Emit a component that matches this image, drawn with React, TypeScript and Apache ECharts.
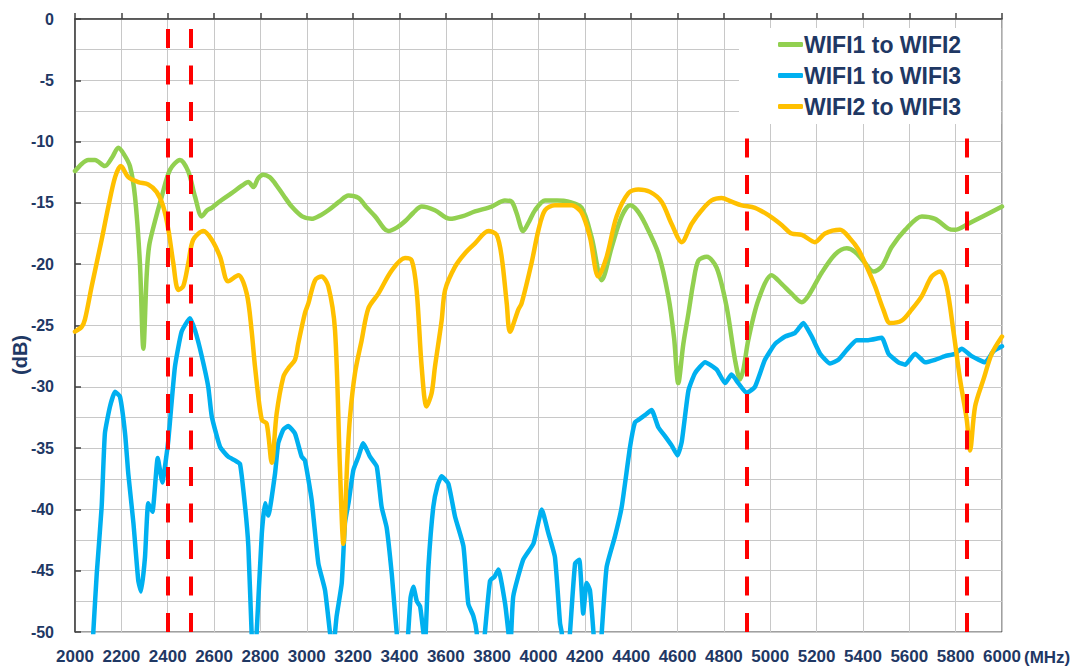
import React, { useEffect, useRef } from "react";
import * as echarts from "echarts";

// ---- Data (MHz, dB) ----
const wifi12Freq = [2000, 2030, 2057, 2086, 2129, 2160, 2187, 2210, 2237, 2259, 2280, 2295, 2309, 2320, 2345, 2374, 2410, 2453, 2489, 2518, 2547, 2570, 2590, 2630, 2676, 2720, 2748, 2770, 2790, 2812, 2840, 2863, 2900, 2935, 2980, 3021, 3060, 3093, 3140, 3180, 3223, 3260, 3295, 3352, 3390, 3424, 3460, 3496, 3553, 3618, 3670, 3726, 3798, 3855, 3884, 3905, 3934, 3960, 3985, 4028, 4080, 4129, 4186, 4229, 4273, 4316, 4359, 4395, 4425, 4460, 4517, 4560, 4585, 4603, 4625, 4647, 4668, 4690, 4726, 4769, 4812, 4848, 4870, 4885, 4905, 4949, 5006, 5049, 5092, 5136, 5164, 5222, 5280, 5330, 5366, 5409, 5445, 5481, 5524, 5582, 5654, 5711, 5768, 5797, 5855, 5927, 6000];
const wifi12Db = [-12.4, -11.8, -11.5, -11.5, -12.0, -11.3, -10.5, -11.0, -12.0, -14.5, -19.9, -26.9, -21.0, -18.5, -16.5, -14.5, -12.3, -11.5, -12.45, -14.5, -16.1, -15.6, -15.4, -14.8, -14.2, -13.6, -13.3, -13.7, -13.0, -12.7, -12.9, -13.4, -14.4, -15.3, -16.1, -16.3, -16.0, -15.6, -14.9, -14.4, -14.6, -15.4, -16.1, -17.3, -17.0, -16.5, -15.8, -15.3, -15.6, -16.3, -16.1, -15.7, -15.3, -14.8, -14.9, -15.8, -17.3, -16.5, -15.6, -14.8, -14.8, -14.9, -15.4, -17.8, -21.3, -18.6, -16.1, -15.2, -15.6, -16.7, -19.1, -22.6, -26.0, -29.7, -26.5, -24.0, -21.5, -19.7, -19.4, -20.3, -23.5, -27.8, -29.4, -28.5, -26.2, -22.9, -20.9, -21.6, -22.4, -23.1, -22.6, -20.7, -19.2, -18.7, -19.0, -19.9, -20.6, -20.2, -18.6, -17.2, -16.1, -16.3, -17.1, -17.2, -16.7, -16.0, -15.3];

const wifi13Freq = [2000, 2065, 2079, 2094, 2115, 2129, 2151, 2173, 2194, 2216, 2230, 2252, 2273, 2285, 2302, 2316, 2334, 2357, 2377, 2396, 2403, 2431, 2460, 2496, 2518, 2547, 2575, 2590, 2626, 2661, 2690, 2712, 2734, 2748, 2762, 2773, 2784, 2806, 2820, 2834, 2863, 2877, 2899, 2920, 2949, 2978, 2992, 3021, 3050, 3079, 3100, 3113, 3129, 3151, 3165, 3180, 3201, 3223, 3244, 3273, 3302, 3323, 3345, 3367, 3381, 3388, 3412, 3438, 3448, 3460, 3475, 3489, 3503, 3510, 3525, 3546, 3565, 3582, 3611, 3640, 3676, 3697, 3719, 3733, 3750, 3769, 3791, 3810, 3827, 3856, 3870, 3878, 3891, 3934, 3978, 4000, 4014, 4042, 4071, 4093, 4100, 4118, 4136, 4158, 4176, 4193, 4208, 4222, 4237, 4255, 4273, 4294, 4330, 4359, 4395, 4416, 4431, 4467, 4488, 4517, 4545, 4575, 4600, 4618, 4647, 4675, 4719, 4769, 4805, 4833, 4862, 4898, 4934, 4977, 5021, 5064, 5107, 5143, 5179, 5215, 5258, 5294, 5330, 5373, 5423, 5481, 5510, 5553, 5582, 5625, 5668, 5711, 5754, 5797, 5826, 5869, 5927, 5963, 6000];
const wifi13Db = [-60, -55, -50, -45.2, -39.8, -33.8, -31.6, -30.4, -30.8, -33.8, -37.1, -41.1, -45.8, -46.7, -43.9, -39.5, -40.2, -35.8, -37.8, -35.4, -34.3, -28.4, -25.5, -24.4, -25.4, -27.5, -30.0, -32.4, -34.9, -35.7, -36.0, -36.3, -39.8, -43.0, -50, -53, -50, -42.0, -39.5, -40.5, -37.1, -34.6, -33.5, -33.2, -33.8, -35.7, -36.0, -39.2, -44.4, -46.6, -50, -51.5, -48.7, -46.0, -41.1, -39.5, -36.8, -35.7, -34.6, -35.7, -36.5, -39.8, -41.5, -45.3, -48.5, -50, -56, -50, -47.2, -46.3, -47.5, -47.9, -50, -51, -44.7, -39.8, -38.0, -37.3, -37.9, -40.6, -43.0, -47.7, -48.7, -50, -54, -50, -45.8, -45.5, -44.9, -47.7, -50, -51.5, -47.1, -44.1, -42.8, -41.0, -40.0, -41.9, -43.9, -49.3, -50, -54, -50, -44.4, -44.1, -48.5, -46.0, -46.6, -50, -55, -50, -44.7, -42.2, -39.8, -34.9, -32.9, -32.7, -32.2, -31.9, -33.3, -34.0, -34.8, -35.6, -34.5, -30.3, -28.9, -28.0, -28.6, -29.7, -29.0, -29.7, -30.5, -30.0, -27.8, -26.5, -25.9, -25.6, -24.8, -25.9, -27.3, -28.1, -27.8, -27.0, -26.2, -26.2, -26.0, -27.3, -28.0, -28.2, -27.3, -28.0, -27.8, -27.5, -27.3, -26.9, -27.5, -28.0, -27.1, -26.7];

const wifi23Freq = [2000, 2029, 2043, 2072, 2115, 2144, 2173, 2198, 2230, 2273, 2316, 2352, 2381, 2403, 2424, 2446, 2467, 2489, 2510, 2554, 2590, 2626, 2661, 2705, 2741, 2762, 2777, 2806, 2827, 2849, 2870, 2899, 2920, 2949, 2963, 2992, 3007, 3036, 3064, 3093, 3122, 3143, 3158, 3175, 3187, 3208, 3237, 3266, 3309, 3367, 3424, 3453, 3474, 3496, 3517, 3539, 3553, 3582, 3597, 3640, 3683, 3726, 3784, 3819, 3841, 3863, 3877, 3913, 3927, 3970, 4000, 4028, 4071, 4143, 4186, 4222, 4258, 4294, 4337, 4388, 4431, 4481, 4531, 4574, 4618, 4661, 4704, 4747, 4790, 4833, 4877, 4934, 4992, 5049, 5092, 5136, 5193, 5236, 5301, 5344, 5380, 5416, 5452, 5488, 5517, 5567, 5610, 5654, 5697, 5733, 5761, 5790, 5819, 5848, 5862, 5884, 5920, 5956, 6000];
const wifi23Db = [-25.5, -25.1, -24.5, -21.8, -18.0, -15.3, -12.9, -12.0, -12.9, -13.3, -13.5, -14.1, -15.3, -17.2, -19.9, -22.1, -21.8, -19.9, -18.0, -17.3, -18.0, -19.4, -21.4, -20.9, -22.4, -25.4, -28.4, -32.7, -33.0, -36.2, -32.2, -29.2, -28.5, -27.8, -26.5, -24.0, -23.2, -21.3, -21.0, -21.8, -25.4, -36.5, -42.8, -36.0, -32.4, -28.9, -26.2, -23.6, -22.4, -20.5, -19.5, -19.7, -22.1, -28.4, -31.6, -30.5, -28.4, -24.6, -22.1, -20.2, -19.1, -18.3, -17.3, -17.6, -19.4, -23.2, -25.5, -23.7, -23.2, -19.9, -17.2, -15.6, -15.2, -15.2, -15.8, -17.8, -21.0, -19.4, -16.1, -14.2, -13.9, -14.1, -14.9, -16.7, -18.2, -16.7, -15.6, -14.8, -14.6, -14.9, -15.2, -15.4, -16.0, -16.8, -17.5, -17.6, -18.2, -17.5, -17.2, -17.9, -18.8, -20.2, -21.8, -23.7, -24.8, -24.6, -23.7, -22.6, -21.0, -20.6, -21.8, -25.4, -29.4, -32.7, -35.2, -31.6, -29.4, -27.3, -25.9];

const markerFreqs = [2400, 2500, 4900, 5850];
const seriesNames = ["WIFI1 to WIFI2", "WIFI1 to WIFI3", "WIFI2 to WIFI3"];
const seriesColors = ["#92d050", "#00b0f0", "#ffc000"];
const seriesSmooth = [0.3, 0.15, 0.3];

const TEXT = "#1f3864";
const FONT = "'Liberation Sans', Arial, sans-serif";
const GRID = "#c8c8c8";

function pairs(f: number[], v: number[]) {
  return f.map((x, i) => [x, v[i]]);
}

export default function App() {
  const ref = useRef<HTMLDivElement>(null);
  useEffect(() => {
    if (!ref.current) return;
    const chart = echarts.init(ref.current, undefined, { renderer: "svg" });
    const datasets = [
      pairs(wifi12Freq, wifi12Db),
      pairs(wifi13Freq, wifi13Db),
      pairs(wifi23Freq, wifi23Db),
    ];
    const lineSeries = seriesNames.map((name, i) => ({
      name,
      type: "line",
      data: datasets[i],
      symbol: "none",
      showSymbol: false,
      clip: true,
      smooth: seriesSmooth[i],
      z: 2 + i,
      lineStyle: { color: seriesColors[i], width: 4.5, join: "round", cap: "round" },
      itemStyle: { color: seriesColors[i] },
    }));
    chart.setOption({
      animation: false,
      backgroundColor: "#ffffff",
      grid: {
        left: 75,
        top: 19,
        right: 75,
        bottom: 38,
        show: true,
        borderColor: "#404040",
        borderWidth: 1,
        backgroundColor: "transparent",
      },
      legend: {
        data: seriesNames,
        orient: "vertical",
        left: 739,
        top: 28,
        padding: [1, 40, 2, 39],
        backgroundColor: "#ffffff",
        itemGap: 0,
        itemWidth: 25,
        itemHeight: 5,
        icon: "roundRect",
        z: 10,
        textStyle: {
          fontFamily: FONT,
          fontWeight: "bold",
          fontSize: 23,
          lineHeight: 31,
          color: TEXT,
          padding: [0, 0, 0, -4],
        },
      },
      xAxis: {
        type: "value",
        min: 2000,
        max: 6000,
        interval: 200,
        axisLine: { show: true, lineStyle: { color: "#404040", width: 1.5 } },
        axisTick: { show: true, inside: true, length: 6, lineStyle: { color: "#404040", width: 1.5 } },
        splitLine: { show: true, lineStyle: { color: GRID, width: 1 } },
        axisLabel: {
          margin: 16,
          color: TEXT,
          fontFamily: FONT,
          fontWeight: "bold",
          fontSize: 17,
          formatter: (v: number) => String(v),
          showMinLabel: true,
          showMaxLabel: true,
          hideOverlap: false,
        },
      },
      yAxis: {
        type: "value",
        min: -50,
        max: 0,
        interval: 5,
        axisLine: { show: true, lineStyle: { color: "#404040", width: 1.5 } },
        axisTick: { show: true, inside: true, length: 6, lineStyle: { color: "#404040", width: 1.5 } },
        minorTick: { show: false, splitNumber: 2 },
        minorSplitLine: { show: true, lineStyle: { color: GRID, width: 1 } },
        splitLine: { show: true, lineStyle: { color: GRID, width: 1 } },
        axisLabel: {
          margin: 21,
          color: TEXT,
          fontFamily: FONT,
          fontWeight: "bold",
          fontSize: 16,
        },
      },
      graphic: [
        {
          type: "text",
          x: 1024,
          y: 657,
          style: {
            text: "(MHz)",
            fill: TEXT,
            font: "bold 17px 'Liberation Sans', Arial, sans-serif",
            align: "left",
            verticalAlign: "middle",
          },
        },
        {
          type: "text",
          x: 20,
          y: 355,
          rotation: Math.PI / 2,
          style: {
            text: "(dB)",
            fill: TEXT,
            font: "bold 20px 'Liberation Sans', Arial, sans-serif",
            align: "center",
            verticalAlign: "middle",
          },
        },
      ],
      series: [
        ...lineSeries,
        {
          name: "markers",
          type: "line",
          data: [],
          z: 6,
          silent: true,
          markLine: {
            silent: true,
            symbol: ["none", "none"],
            label: { show: false },
            lineStyle: { color: "#ff0000", width: 4, type: [19, 17.5], cap: "butt" },
            emphasis: { disabled: true },
            data: markerFreqs.map((f) => ({ xAxis: f })),
          },
        },
      ],
    });
    return () => chart.dispose();
  }, []);
  return (
    <div
      ref={ref}
      style={{ position: "fixed", left: 0, top: 0, width: 1077, height: 670 }}
    />
  );
}
